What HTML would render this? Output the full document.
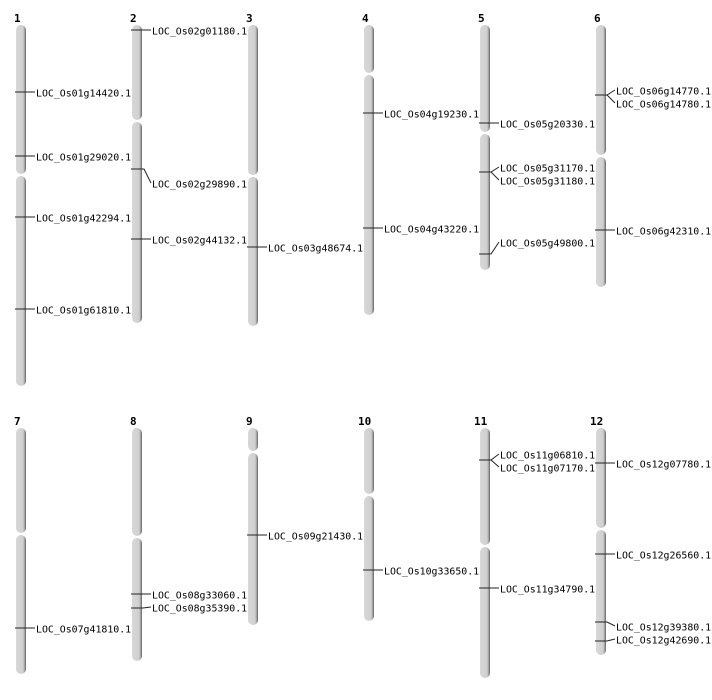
<!DOCTYPE html>
<html><head><meta charset="utf-8"><style>
html,body{margin:0;padding:0;background:#fff;}
svg{display:block;}
text{font-family:"DejaVu Sans Mono","Liberation Mono",monospace;font-size:9.9px;fill:#000;}
.n{font-family:"DejaVu Sans Mono","Liberation Mono",monospace;font-weight:bold;font-size:11px;}
.c{fill:url(#g);}
.m{fill:none;stroke:#222;stroke-width:1;}
</style></head><body>
<svg width="712" height="700" viewBox="0 0 712 700" xmlns="http://www.w3.org/2000/svg">
<defs><linearGradient id="g" x1="0" x2="1" y1="0" y2="0">
<stop offset="0" stop-color="#d8d8d8"/><stop offset="0.7" stop-color="#d0d0d0"/><stop offset="0.85" stop-color="#a8a8a8"/><stop offset="1" stop-color="#606060"/></linearGradient></defs>

<text class="n" x="14" y="22">1</text><text class="n" x="130" y="22">2</text><text class="n" x="246" y="22">3</text><text class="n" x="362" y="22">4</text><text class="n" x="478" y="22">5</text><text class="n" x="594" y="22">6</text>
<text class="n" x="14" y="425">7</text><text class="n" x="130" y="425">8</text><text class="n" x="246" y="425">9</text><text class="n" x="358" y="425">10</text><text class="n" x="474" y="425">11</text><text class="n" x="590" y="425">12</text>

<rect class="c" x="16" y="25" width="10" height="149" rx="5"/><rect class="c" x="16" y="176" width="10" height="210" rx="5"/>
<rect class="c" x="132" y="25" width="10" height="95" rx="5"/><rect class="c" x="132" y="122" width="10" height="201" rx="5"/>
<rect class="c" x="248" y="25" width="10" height="150" rx="5"/><rect class="c" x="248" y="177" width="10" height="149" rx="5"/>
<rect class="c" x="364" y="25" width="10" height="48" rx="5"/><rect class="c" x="364" y="75" width="10" height="240" rx="5"/>
<rect class="c" x="480" y="25" width="10" height="107" rx="5"/><rect class="c" x="480" y="134" width="10" height="136" rx="5"/>
<rect class="c" x="596" y="25" width="10" height="130" rx="5"/><rect class="c" x="596" y="157" width="10" height="130" rx="5"/>
<rect class="c" x="16" y="428" width="10" height="105" rx="5"/><rect class="c" x="16" y="535" width="10" height="139" rx="5"/>
<rect class="c" x="132" y="428" width="10" height="108" rx="5"/><rect class="c" x="132" y="538" width="10" height="123" rx="5"/>
<rect class="c" x="248" y="428" width="10" height="23" rx="5"/><rect class="c" x="248" y="453" width="10" height="172" rx="5"/>
<rect class="c" x="364" y="428" width="10" height="66" rx="5"/><rect class="c" x="364" y="496" width="10" height="125" rx="5"/>
<rect class="c" x="480" y="428" width="10" height="117" rx="5"/><rect class="c" x="480" y="547" width="10" height="131" rx="5"/>
<rect class="c" x="596" y="428" width="10" height="100" rx="5"/><rect class="c" x="596" y="530" width="10" height="125" rx="5"/>

<polyline class="m" points="15,92 35,92"/><text x="36" y="96.5">LOC_Os01g14420.1</text>
<polyline class="m" points="15,156 35,156"/><text x="36" y="160.5">LOC_Os01g29020.1</text>
<polyline class="m" points="15,217 35,217"/><text x="36" y="221.5">LOC_Os01g42294.1</text>
<polyline class="m" points="15,309 35,309"/><text x="36" y="313.5">LOC_Os01g61810.1</text>

<polyline class="m" points="131,30 151,30"/><text x="152" y="34.5">LOC_Os02g01180.1</text>
<polyline class="m" points="131,169 144,169 151,183"/><text x="152" y="187.5">LOC_Os02g29890.1</text>
<polyline class="m" points="131,239 151,239"/><text x="152" y="243.5">LOC_Os02g44132.1</text>

<polyline class="m" points="247,247 267,247"/><text x="268" y="251.5">LOC_Os03g48674.1</text>

<polyline class="m" points="363,113 383,113"/><text x="384" y="117.5">LOC_Os04g19230.1</text>
<polyline class="m" points="363,228 383,228"/><text x="384" y="232.5">LOC_Os04g43220.1</text>

<polyline class="m" points="479,123 499,123"/><text x="500" y="127.5">LOC_Os05g20330.1</text>
<polyline class="m" points="479,172 491,172 499,167"/><polyline class="m" points="491,172 499,180"/><text x="500" y="171.5">LOC_Os05g31170.1</text><text x="500" y="184.5">LOC_Os05g31180.1</text>
<polyline class="m" points="479,254 491,254 499,242"/><text x="500" y="246.5">LOC_Os05g49800.1</text>

<polyline class="m" points="595,95 607,95 615,90"/><polyline class="m" points="607,95 615,103"/><text x="616" y="94.5">LOC_Os06g14770.1</text><text x="616" y="107.5">LOC_Os06g14780.1</text>
<polyline class="m" points="595,230 615,230"/><text x="616" y="234.5">LOC_Os06g42310.1</text>

<polyline class="m" points="15,628 35,628"/><text x="36" y="632.5">LOC_Os07g41810.1</text>

<polyline class="m" points="131,594 151,594"/><text x="152" y="598.5">LOC_Os08g33060.1</text>
<polyline class="m" points="131,608 143,608 151,607"/><text x="152" y="611.5">LOC_Os08g35390.1</text>

<polyline class="m" points="247,535 267,535"/><text x="268" y="539.5">LOC_Os09g21430.1</text>

<polyline class="m" points="363,570 383,570"/><text x="384" y="574.5">LOC_Os10g33650.1</text>

<polyline class="m" points="479,460 491,460 499,454"/><polyline class="m" points="491,460 499,467"/><text x="500" y="458.5">LOC_Os11g06810.1</text><text x="500" y="471.5">LOC_Os11g07170.1</text>
<polyline class="m" points="479,588 499,588"/><text x="500" y="592.5">LOC_Os11g34790.1</text>

<polyline class="m" points="595,463 615,463"/><text x="616" y="467.5">LOC_Os12g07780.1</text>
<polyline class="m" points="595,554 615,554"/><text x="616" y="558.5">LOC_Os12g26560.1</text>
<polyline class="m" points="595,622 607,622 615,626"/><text x="616" y="630.5">LOC_Os12g39380.1</text>
<polyline class="m" points="595,641 607,641 615,639"/><text x="616" y="643.5">LOC_Os12g42690.1</text>
</svg>
</body></html>
